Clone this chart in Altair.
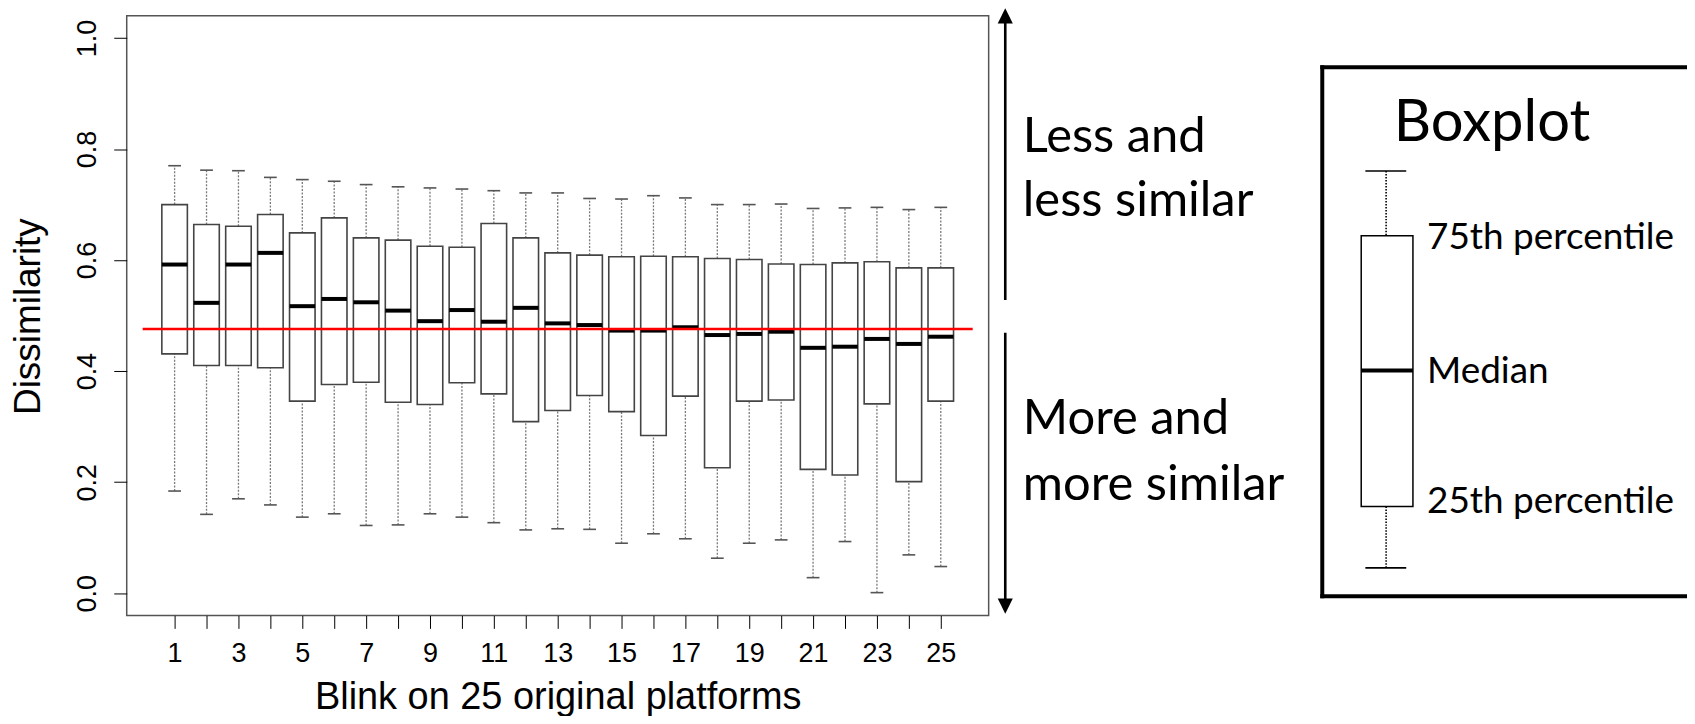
import altair as alt
import pandas as pd

# ---------------- data ----------------
platform = list(range(1, 26))
whisker_low = [0.184, 0.142, 0.170, 0.159, 0.137, 0.143, 0.122, 0.123, 0.143, 0.137,
               0.127, 0.114, 0.116, 0.115, 0.090, 0.107, 0.098, 0.063, 0.090, 0.096,
               0.028, 0.093, 0.001, 0.069, 0.048]
q1 = [0.431, 0.410, 0.410, 0.406, 0.346, 0.376, 0.380, 0.344, 0.340, 0.379,
      0.359, 0.309, 0.329, 0.356, 0.327, 0.284, 0.355, 0.226, 0.346, 0.348,
      0.223, 0.213, 0.341, 0.201, 0.346]
median = [0.592, 0.523, 0.592, 0.613, 0.517, 0.530, 0.524, 0.509, 0.490, 0.510,
          0.489, 0.514, 0.486, 0.483, 0.473, 0.473, 0.479, 0.465, 0.467, 0.471,
          0.442, 0.444, 0.458, 0.449, 0.462]
q3 = [0.700, 0.664, 0.661, 0.682, 0.649, 0.676, 0.640, 0.636, 0.625, 0.623,
      0.666, 0.640, 0.613, 0.609, 0.606, 0.607, 0.606, 0.603, 0.601, 0.593,
      0.592, 0.595, 0.597, 0.586, 0.586]
whisker_high = [0.770, 0.762, 0.761, 0.749, 0.745, 0.742, 0.736, 0.732, 0.730, 0.728,
                0.725, 0.721, 0.721, 0.711, 0.710, 0.716, 0.712, 0.700, 0.700, 0.701,
                0.693, 0.694, 0.695, 0.691, 0.695]
reference_level = [0.476]
reference_from = [0]
reference_to = [26]

x_ticks = platform
y_ticks = [0.0, 0.2, 0.4, 0.6, 0.8, 1.0]

df = pd.DataFrame({"platform": platform, "lo": whisker_low, "q1": q1,
                   "med": median, "q3": q3, "hi": whisker_high})
ref = pd.DataFrame({"x": reference_from, "x2": reference_to, "y": reference_level})

# ---------------- scales / axes ----------------
FONT = "Liberation Sans"
ANN_FONT = "Lato"
xs = alt.Scale(domain=[-0.5, 26.5], nice=False, zero=False)
ys = alt.Scale(domain=[-0.04, 1.04], nice=False, zero=False)

x_axis = alt.Axis(values=x_ticks, labelExpr="datum.value % 2 == 1 ? datum.label : ''",
                  tickSize=13, tickColor="black", tickWidth=1, labelPadding=33,
                  labelBaseline="alphabetic", labelFontSize=27, labelFont=FONT,
                  labelColor="black", labelOverlap=False, labelFlush=False,
                  title="Blink on 25 original platforms", titleFont=FONT,
                  titleFontSize=38, titleFontWeight="normal", titleColor="black",
                  titleBaseline="alphabetic", titleY=93, domain=False, grid=False)
y_axis = alt.Axis(values=y_ticks, format=".1f", labelAngle=270, labelAlign="center",
                  labelBaseline="alphabetic", labelPadding=18, tickSize=13,
                  tickColor="black", tickWidth=1, labelFontSize=27, labelFont=FONT,
                  labelColor="black", labelOverlap=False, labelFlush=False,
                  title="Dissimilarity", titleFont=FONT, titleFontSize=37,
                  titleFontWeight="normal", titleColor="black", titleAngle=270,
                  titleX=-87, titleY=301, titleAlign="center",
                  titleBaseline="alphabetic", domain=False, grid=False)


def X(field):
    return alt.X(field, scale=xs, axis=x_axis)


def Y(field):
    return alt.Y(field, scale=ys, axis=y_axis)


base = alt.Chart(df).transform_calculate(
    x_lo="datum.platform - 0.4", x_hi="datum.platform + 0.4",
    c_lo="datum.platform - 0.2", c_hi="datum.platform + 0.2")

whisk_style = dict(color="#7a7a7a", strokeWidth=1.3, strokeDash=[2, 1.5])
lower_whisker = base.mark_rule(**whisk_style).encode(x=X("platform:Q"), y=Y("lo:Q"), y2="q1:Q")
upper_whisker = base.mark_rule(**whisk_style).encode(x=X("platform:Q"), y=Y("q3:Q"), y2="hi:Q")
cap_style = dict(color="#555", strokeWidth=1.6)
cap_lo = base.mark_rule(**cap_style).encode(x=X("c_lo:Q"), x2="c_hi:Q", y=Y("lo:Q"))
cap_hi = base.mark_rule(**cap_style).encode(x=X("c_lo:Q"), x2="c_hi:Q", y=Y("hi:Q"))
boxes = base.mark_rect(fill="white", stroke="#444", strokeWidth=1.6).encode(
    x=X("x_lo:Q"), x2="x_hi:Q", y=Y("q1:Q"), y2="q3:Q")
medians = base.mark_rule(color="black", strokeWidth=4, strokeCap="butt").encode(
    x=X("x_lo:Q"), x2="x_hi:Q", y=Y("med:Q"))
red_line = alt.Chart(ref).mark_rule(color="#ff0000", strokeWidth=2.6).encode(
    x=X("x:Q"), x2="x2:Q", y=Y("y:Q"))

# ---------------- annotations (positions in the chart's data units) ----------------
arrow_x = 27.02
shafts = pd.DataFrame({"x": [arrow_x, arrow_x], "y": [1.04, 0.469], "y2": [0.528, -0.02]})
heads = pd.DataFrame({"x": [arrow_x, arrow_x], "y": [1.040, -0.0234],
                      "s": ["M0,-1L1,1L-1,1Z", "M0,1L1,-1L-1,-1Z"]})
side_text = pd.DataFrame({"x": [27.57] * 4,
                          "y": [0.7943, 0.6803, 0.2861, 0.1670],
                          "t": ["Less and", "less similar", "More and", "more similar"]})

shaft_layer = alt.Chart(shafts).mark_rule(color="black", strokeWidth=2.6).encode(
    x=X("x:Q"), y=Y("y:Q"), y2="y2:Q")
head_layer = alt.Chart(heads).mark_point(filled=True, color="black", size=230, opacity=1).encode(
    x=X("x:Q"), y=Y("y:Q"), shape=alt.Shape("s:N", scale=None, legend=None))
side_layer = alt.Chart(side_text).mark_text(align="left", baseline="alphabetic",
                                            font=ANN_FONT, fontSize=49, color="black").encode(
    x=X("x:Q"), y=Y("y:Q"), text="t:N")

# legend frame
L_left, L_right, L_top, L_bot = 36.95, 48.6, 0.9475, -0.0054
frame = pd.DataFrame({"x": [L_left, L_left, L_left], "x2": [L_right, L_right, L_left],
                      "y": [L_top, L_bot, L_bot], "y2": [L_top, L_bot, L_top]})
frame_layer = alt.Chart(frame).mark_rule(color="black", strokeWidth=4, strokeCap="square").encode(
    x=X("x:Q"), x2="x2:Q", y=Y("y:Q"), y2="y2:Q")

g_cx, g_box_l, g_box_r, g_cap_l, g_cap_r = 38.95, 38.17, 39.79, 38.30, 39.58
g_cap_top, g_q3, g_med_y, g_q1, g_cap_bot = 0.7605, 0.6438, 0.4011, 0.1563, 0.0456
g_whisk = pd.DataFrame({"x": [g_cx, g_cx], "y": [g_cap_top, g_q1], "y2": [g_q3, g_cap_bot]})
g_caps = pd.DataFrame({"x": [g_cap_l, g_cap_l], "x2": [g_cap_r, g_cap_r],
                       "y": [g_cap_top, g_cap_bot]})
g_box = pd.DataFrame({"x": [g_box_l], "x2": [g_box_r], "y": [g_q1], "y2": [g_q3]})
g_med = pd.DataFrame({"x": [g_box_l], "x2": [g_box_r], "y": [g_med_y]})
g_text = pd.DataFrame({"x": [39.19, 40.23, 40.23, 40.23],
                       "y": [0.8153, 0.620, 0.3786, 0.1447],
                       "t": ["Boxplot", "75th percentile", "Median", "25th percentile"],
                       "fs": [58, 37, 37, 37]})

gw = alt.Chart(g_whisk).mark_rule(color="black", strokeWidth=1.6, strokeDash=[1.5, 1.5]).encode(
    x=X("x:Q"), y=Y("y:Q"), y2="y2:Q")
gc = alt.Chart(g_caps).mark_rule(color="black", strokeWidth=1.6).encode(
    x=X("x:Q"), x2="x2:Q", y=Y("y:Q"))
gb = alt.Chart(g_box).mark_rect(fill="white", stroke="black", strokeWidth=1.5).encode(
    x=X("x:Q"), x2="x2:Q", y=Y("y:Q"), y2="y2:Q")
gm = alt.Chart(g_med).mark_rule(color="black", strokeWidth=4, strokeCap="butt").encode(
    x=X("x:Q"), x2="x2:Q", y=Y("y:Q"))
gt = alt.Chart(g_text).mark_text(align="left", baseline="alphabetic", font=ANN_FONT,
                                 color="black").encode(
    x=X("x:Q"), y=Y("y:Q"), text="t:N",
    size=alt.Size("fs:Q", scale=None, legend=None))

chart = alt.layer(
    lower_whisker, upper_whisker, cap_lo, cap_hi, boxes, medians, red_line,
    shaft_layer, head_layer, side_layer, frame_layer, gw, gc, gb, gm, gt
).properties(
    width=864, height=601,
    autosize=alt.AutoSizeParams(type="none"),
    padding={"left": 119, "top": 7, "right": 700, "bottom": 100},
    background="white",
).configure_view(stroke="#555", strokeWidth=1.5)

chart.save("out.html", embed_options={"renderer": "svg", "actions": False})
